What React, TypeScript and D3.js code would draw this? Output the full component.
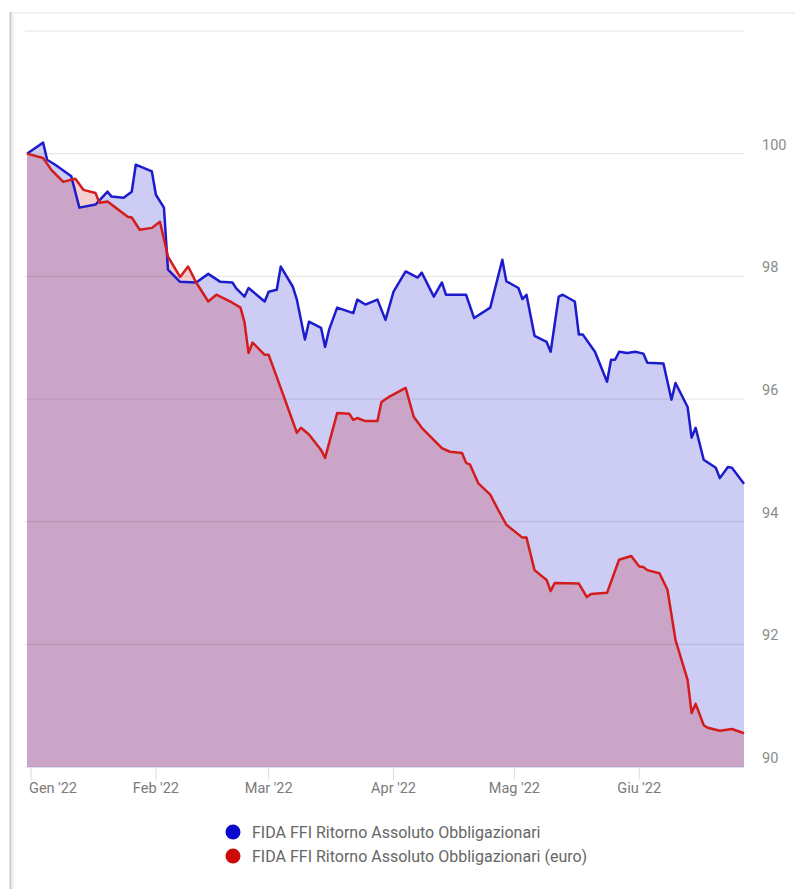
import React from "react";
import * as d3 from "d3";

// FIDA FFI Ritorno Assoluto Obbligazionari (base 100)
const blueSeries: [string, number][] = [
  ["2021-12-31", 100.0], ["2022-01-04", 100.18], ["2022-01-05", 99.9], ["2022-01-07", 99.82],
  ["2022-01-11", 99.63], ["2022-01-13", 99.12], ["2022-01-17", 99.17], ["2022-01-20", 99.38],
  ["2022-01-21", 99.3], ["2022-01-24", 99.28], ["2022-01-26", 99.38], ["2022-01-27", 99.82],
  ["2022-01-31", 99.71], ["2022-02-01", 99.33], ["2022-02-03", 99.12], ["2022-02-04", 98.11],
  ["2022-02-07", 97.91], ["2022-02-11", 97.9], ["2022-02-14", 98.04], ["2022-02-17", 97.91],
  ["2022-02-20", 97.9], ["2022-02-21", 97.8], ["2022-02-23", 97.67], ["2022-02-24", 97.81],
  ["2022-02-28", 97.59], ["2022-03-01", 97.75], ["2022-03-03", 97.78], ["2022-03-04", 98.16],
  ["2022-03-07", 97.83], ["2022-03-08", 97.62], ["2022-03-10", 96.97], ["2022-03-11", 97.26],
  ["2022-03-14", 97.16], ["2022-03-15", 96.85], ["2022-03-16", 97.13], ["2022-03-18", 97.49],
  ["2022-03-22", 97.4], ["2022-03-23", 97.62], ["2022-03-25", 97.54], ["2022-03-28", 97.62],
  ["2022-03-30", 97.29], ["2022-04-01", 97.75], ["2022-04-04", 98.08], ["2022-04-07", 97.98],
  ["2022-04-08", 98.06], ["2022-04-11", 97.67], ["2022-04-13", 97.9], ["2022-04-14", 97.7],
  ["2022-04-19", 97.7], ["2022-04-21", 97.32], ["2022-04-25", 97.49], ["2022-04-28", 98.27],
  ["2022-04-29", 97.92], ["2022-05-02", 97.81], ["2022-05-03", 97.63], ["2022-05-04", 97.7],
  ["2022-05-06", 97.03], ["2022-05-09", 96.93], ["2022-05-10", 96.77], ["2022-05-12", 97.67],
  ["2022-05-13", 97.7], ["2022-05-16", 97.59], ["2022-05-17", 97.05], ["2022-05-18", 97.05],
  ["2022-05-21", 96.77], ["2022-05-24", 96.28], ["2022-05-25", 96.64], ["2022-05-26", 96.64],
  ["2022-05-27", 96.77], ["2022-05-29", 96.75], ["2022-05-31", 96.77], ["2022-06-02", 96.74],
  ["2022-06-03", 96.59], ["2022-06-07", 96.58], ["2022-06-09", 95.99], ["2022-06-10", 96.26],
  ["2022-06-13", 95.87], ["2022-06-14", 95.37], ["2022-06-15", 95.53], ["2022-06-17", 95.01],
  ["2022-06-20", 94.88], ["2022-06-21", 94.71], ["2022-06-23", 94.89], ["2022-06-24", 94.88],
  ["2022-06-27", 94.62],
];

// FIDA FFI Ritorno Assoluto Obbligazionari (euro)
const redSeries: [string, number][] = [
  ["2021-12-31", 100.0], ["2022-01-04", 99.93], ["2022-01-06", 99.74], ["2022-01-09", 99.54],
  ["2022-01-12", 99.59], ["2022-01-14", 99.41], ["2022-01-17", 99.36], ["2022-01-18", 99.2],
  ["2022-01-20", 99.22], ["2022-01-25", 98.97], ["2022-01-26", 98.96], ["2022-01-28", 98.76],
  ["2022-01-31", 98.79], ["2022-02-02", 98.89], ["2022-02-04", 98.32], ["2022-02-07", 97.99],
  ["2022-02-09", 98.16], ["2022-02-11", 97.9], ["2022-02-14", 97.59], ["2022-02-16", 97.7],
  ["2022-02-20", 97.57], ["2022-02-22", 97.49], ["2022-02-23", 97.25], ["2022-02-24", 96.75],
  ["2022-02-25", 96.92], ["2022-02-28", 96.72], ["2022-03-01", 96.72], ["2022-03-03", 96.36],
  ["2022-03-08", 95.45], ["2022-03-09", 95.53], ["2022-03-11", 95.42], ["2022-03-14", 95.17],
  ["2022-03-15", 95.04], ["2022-03-18", 95.77], ["2022-03-21", 95.76], ["2022-03-22", 95.66],
  ["2022-03-23", 95.69], ["2022-03-25", 95.64], ["2022-03-28", 95.64], ["2022-03-29", 95.95],
  ["2022-03-31", 96.04], ["2022-04-04", 96.18], ["2022-04-06", 95.71], ["2022-04-08", 95.53],
  ["2022-04-13", 95.2], ["2022-04-15", 95.14], ["2022-04-18", 95.12], ["2022-04-19", 94.96],
  ["2022-04-20", 94.93], ["2022-04-22", 94.63], ["2022-04-25", 94.44], ["2022-04-27", 94.19],
  ["2022-04-29", 93.95], ["2022-05-03", 93.74], ["2022-05-04", 93.74], ["2022-05-06", 93.21],
  ["2022-05-09", 93.05], ["2022-05-10", 92.87], ["2022-05-11", 93.0], ["2022-05-17", 92.99],
  ["2022-05-19", 92.77], ["2022-05-20", 92.82], ["2022-05-24", 92.84], ["2022-05-25", 93.02],
  ["2022-05-27", 93.38], ["2022-05-30", 93.44], ["2022-06-01", 93.27], ["2022-06-02", 93.26],
  ["2022-06-03", 93.21], ["2022-06-06", 93.16], ["2022-06-08", 92.89], ["2022-06-10", 92.07],
  ["2022-06-13", 91.42], ["2022-06-14", 90.88], ["2022-06-15", 91.03], ["2022-06-17", 90.68],
  ["2022-06-18", 90.64], ["2022-06-21", 90.59], ["2022-06-24", 90.62], ["2022-06-27", 90.55],
];

const yTicks = [90, 92, 94, 96, 98, 100, 102];
const monthTicks = ["2022-01-01", "2022-02-01", "2022-03-01", "2022-04-01", "2022-05-01", "2022-06-01"];
const monthLabels = ["Gen '22", "Feb '22", "Mar '22", "Apr '22", "Mag '22", "Giu '22"];
const seriesNames = [
  "FIDA FFI Ritorno Assoluto Obbligazionari",
  "FIDA FFI Ritorno Assoluto Obbligazionari (euro)",
];

const parse = d3.timeParse("%Y-%m-%d");

export default function App() {
  const W = 795;
  const H = 889;
  const left = 27;
  const right = 744;
  const top = 31;
  const bottom = 767;

  const x = d3
    .scaleTime()
    .domain([parse("2021-12-31")!, parse("2022-06-27")!])
    .range([left, right]);
  const y = d3.scaleLinear().domain([90, 102]).range([bottom, top]);

  const toPts = (s: [string, number][]) => s.map(([d, v]) => ({ date: parse(d)!, v }));
  const blue = toPts(blueSeries);
  const red = toPts(redSeries);

  const line = d3
    .line<{ date: Date; v: number }>()
    .x((d) => x(d.date))
    .y((d) => y(d.v));
  const area = d3
    .area<{ date: Date; v: number }>()
    .x((d) => x(d.date))
    .y0(y(90))
    .y1((d) => y(d.v));

  const font = "Roboto, 'Noto Sans', sans-serif";

  return (
    <svg
      width={W}
      height={H}
      style={{ position: "absolute", left: 0, top: 0, background: "#fff" }}
    >
      {/* frame */}
      <line x1={10} x2={W} y1={13} y2={13} stroke="#ececec" strokeWidth={1.5} />
      <line x1={10.5} x2={10.5} y1={12} y2={H} stroke="#c9c9c9" strokeWidth={2} />
      <line x1={12.5} x2={12.5} y1={14} y2={H} stroke="#ececec" strokeWidth={2} />

      {/* grid */}
      {yTicks.map((t) => (
        <line
          key={t}
          x1={left - 2}
          x2={right}
          y1={y(t)}
          y2={y(t)}
          stroke="#e6e6e6"
          strokeWidth={1.2}
        />
      ))}

      {/* areas */}
      <path d={area(blue)!} fill="#0000cc" fillOpacity={0.2} />
      <path d={area(red)!} fill="#cc0000" fillOpacity={0.19} />

      {/* lines */}
      <path d={line(blue)!} fill="none" stroke="#1c1ccc" strokeWidth={2.5} strokeLinejoin="round" />
      <path d={line(red)!} fill="none" stroke="#d41c1c" strokeWidth={2.5} strokeLinejoin="round" />

      {/* y labels on the right */}
      {yTicks
        .filter((t) => t < 102)
        .map((t) => (
          <text
            key={t}
            x={762}
            y={y(t) - 4}
            fontFamily={font}
            fontSize={14.5}
            fill="#8a8a8a"
          >
            {t}
          </text>
        ))}

      {/* x axis */}
      <line x1={left} x2={right} y1={bottom + 0.5} y2={bottom + 0.5} stroke="#dfe3f0" />
      {monthTicks.map((m, i) => {
        const px = x(parse(m)!);
        return (
          <g key={m}>
            <line x1={px} x2={px} y1={bottom} y2={bottom + 13} stroke="#d8dcec" strokeWidth={1} />
            <text
              x={i === 0 ? px - 2 : px}
              y={793}
              textAnchor={i === 0 ? "start" : "middle"}
              fontFamily={font}
              fontSize={14.5}
              fill="#7a7a7a"
            >
              {monthLabels[i]}
            </text>
          </g>
        );
      })}

      {/* legend */}
      {seriesNames.map((name, i) => (
        <g key={name} transform={`translate(233,${832 + i * 24})`}>
          <circle r={7.5} fill={i === 0 ? "#0a0acc" : "#cc0a0a"} />
          <text x={19} y={5.5} fontFamily={font} fontSize={16} fill="#666">
            {name}
          </text>
        </g>
      ))}
    </svg>
  );
}
